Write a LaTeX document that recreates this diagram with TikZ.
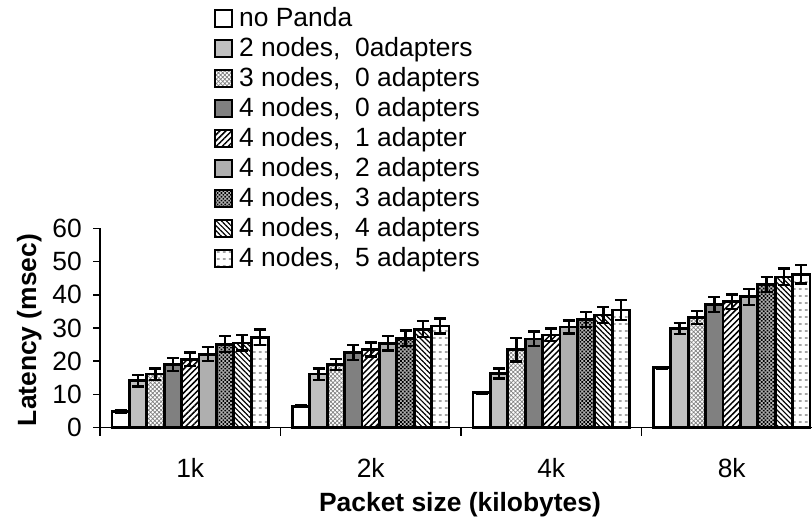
\documentclass[tikz,border=0pt]{standalone}
\usepackage{fontspec}
\setmainfont{Liberation Sans}
\usetikzlibrary{patterns.meta}

\definecolor{lightbar}{RGB}{192,192,192}
\definecolor{darkbar}{RGB}{128,128,128}

% short horizontal dashes for the last series
\pgfdeclarepattern{
  name=HDash,
  type=uncolored,
  bottom left={\pgfpoint{0pt}{0pt}},
  top right={\pgfpoint{6pt}{6.5pt}},
  tile size={\pgfpoint{6pt}{6.5pt}},
  code={
    \pgfsetlinewidth{0.7pt}
    \pgfpathmoveto{\pgfpoint{1pt}{3.2pt}}
    \pgfpathlineto{\pgfpoint{4pt}{3.2pt}}
    \pgfusepath{stroke}
  }
}

% bar heights (msec) and error half-widths, 9 series x 4 packet sizes
\def\vals{{4.8,14.1,16.1,19.0,20.6,22.1,25.1,25.5,27.2,
           6.4,16.1,19.0,22.6,23.5,25.4,26.9,29.6,30.6,
           10.5,16.3,23.4,26.7,27.9,30.3,32.5,33.9,35.4,
           18.0,29.9,33.1,37.1,37.9,39.4,43.1,45.4,46.2}}
\def\errs{{0.3,1.7,1.7,2.0,2.0,2.1,2.4,2.3,2.3,
           0.3,1.7,1.7,2.3,2.1,2.2,2.3,2.4,2.3,
           0.3,1.5,3.5,2.2,1.9,2.0,2.3,2.4,3.0,
           0.3,1.7,2.0,2.3,2.2,2.4,2.3,2.5,2.8}}

\begin{document}
\begin{tikzpicture}[x=1pt,y=1pt,
  lab/.style={font=\fontsize{26.4}{30}\selectfont, inner sep=0pt},
  boldlab/.style={font=\fontsize{26.4}{30}\selectfont\bfseries, inner sep=0pt},
  axisline/.style={draw=black, line width=1.4pt},
  barframe/.style={draw=black, line width=2.8pt},
  keyframe/.style={draw=black, line width=2pt},
  errline/.style={draw=black, line width=2.3pt},
  fill0/.style={fill=white},
  fill1/.style={fill=lightbar},
  fill2/.style={preaction={fill=white}, pattern={Hatch[distance=3pt,angle=45,line width=0.7pt]}, pattern color=black!50},
  fill3/.style={fill=darkbar},
  fill4/.style={preaction={fill=white}, pattern={Lines[angle=45,distance=4.2pt,line width=1.5pt]}, pattern color=black},
  fill5/.style={preaction={fill=black!18}, pattern={Dots[distance=2pt,radius=0.55pt]}, pattern color=black!75},
  fill6/.style={preaction={fill=black!30}, pattern={Dots[distance=2.7pt,radius=1.2pt,angle=45]}, pattern color=black},
  fill7/.style={preaction={fill=white}, pattern={Lines[angle=-45,distance=3.6pt,line width=1.2pt]}, pattern color=black},
  fill8/.style={preaction={fill=white}, pattern=HDash, pattern color=black},
]
\useasboundingbox (0,0) rectangle (812,529);

% bars
\foreach \g in {0,1,2,3}{
  \foreach \i in {0,...,8}{
    \pgfmathsetmacro{\v}{\vals[9*\g+\i]}
    \pgfmathsetmacro{\xl}{100+180.5*\g+12+17.39*\i}
    \draw[barframe, fill\i] (\xl,101.5) rectangle (\xl+17.39,101.5+3.317*\v);
  }
}
% error bars
\foreach \g in {0,1,2,3}{
  \foreach \i in {0,...,8}{
    \pgfmathsetmacro{\v}{\vals[9*\g+\i]}
    \pgfmathsetmacro{\e}{\errs[9*\g+\i]}
    \pgfmathsetmacro{\xc}{100+180.5*\g+12+17.39*\i+8.7}
    \pgfmathsetmacro{\yt}{101.5+3.317*(\v+\e)}
    \pgfmathsetmacro{\yb}{101.5+3.317*(\v-\e)}
    \draw[errline] (\xc,\yb) -- (\xc,\yt);
    \draw[errline] (\xc-6,\yt) -- (\xc+6,\yt);
    \draw[errline] (\xc-6,\yb) -- (\xc+6,\yb);
  }
}

% axes
\draw[axisline] (100,101.5) -- (100,300.5);
\draw[axisline] (100,101.5) -- (812,101.5);
\foreach \k in {0,...,6}{
  \draw[axisline] (93,101.5+33.17*\k) -- (100,101.5+33.17*\k);
  \pgfmathtruncatemacro{\t}{10*\k}
  \node[lab, anchor=east] (ytick\k) at (82,101.5+33.17*\k) {\t};
}
\foreach \k in {0,...,3}{
  \draw[axisline] (100+180.5*\k,101.5) -- (100+180.5*\k,93);
}
\node[lab, anchor=base] (cat1) at (190.25,51) {1k};
\node[lab, anchor=base] (cat2) at (370.75,51) {2k};
\node[lab, anchor=base] (cat4) at (551.25,51) {4k};
\node[lab, anchor=base] (cat8) at (731.75,51) {8k};

\node[boldlab, anchor=base] (xtitle) at (460,17) {Packet size (kilobytes)};
\node[boldlab, anchor=base, rotate=90] (ytitle) at (36,199) {Latency (msec)};

% legend
\foreach \i in {0,...,8}{
  \draw[keyframe, fill\i] (215,510.5-30*\i-8.5) rectangle (232,510.5-30*\i+8.5);
}
\node[lab, anchor=base west] (key0) at (239,502.5) {no Panda};
\node[lab, anchor=base west] (key1) at (239,472.5) {2 nodes,\ \ 0adapters};
\node[lab, anchor=base west] (key2) at (239,442.5) {3 nodes,\ \ 0 adapters};
\node[lab, anchor=base west] (key3) at (239,412.5) {4 nodes,\ \ 0 adapters};
\node[lab, anchor=base west] (key4) at (239,382.5) {4 nodes,\ \ 1 adapter};
\node[lab, anchor=base west] (key5) at (239,352.5) {4 nodes,\ \ 2 adapters};
\node[lab, anchor=base west] (key6) at (239,322.5) {4 nodes,\ \ 3 adapters};
\node[lab, anchor=base west] (key7) at (239,292.5) {4 nodes,\ \ 4 adapters};
\node[lab, anchor=base west] (key8) at (239,262.5) {4 nodes,\ \ 5 adapters};
\end{tikzpicture}
\end{document}
